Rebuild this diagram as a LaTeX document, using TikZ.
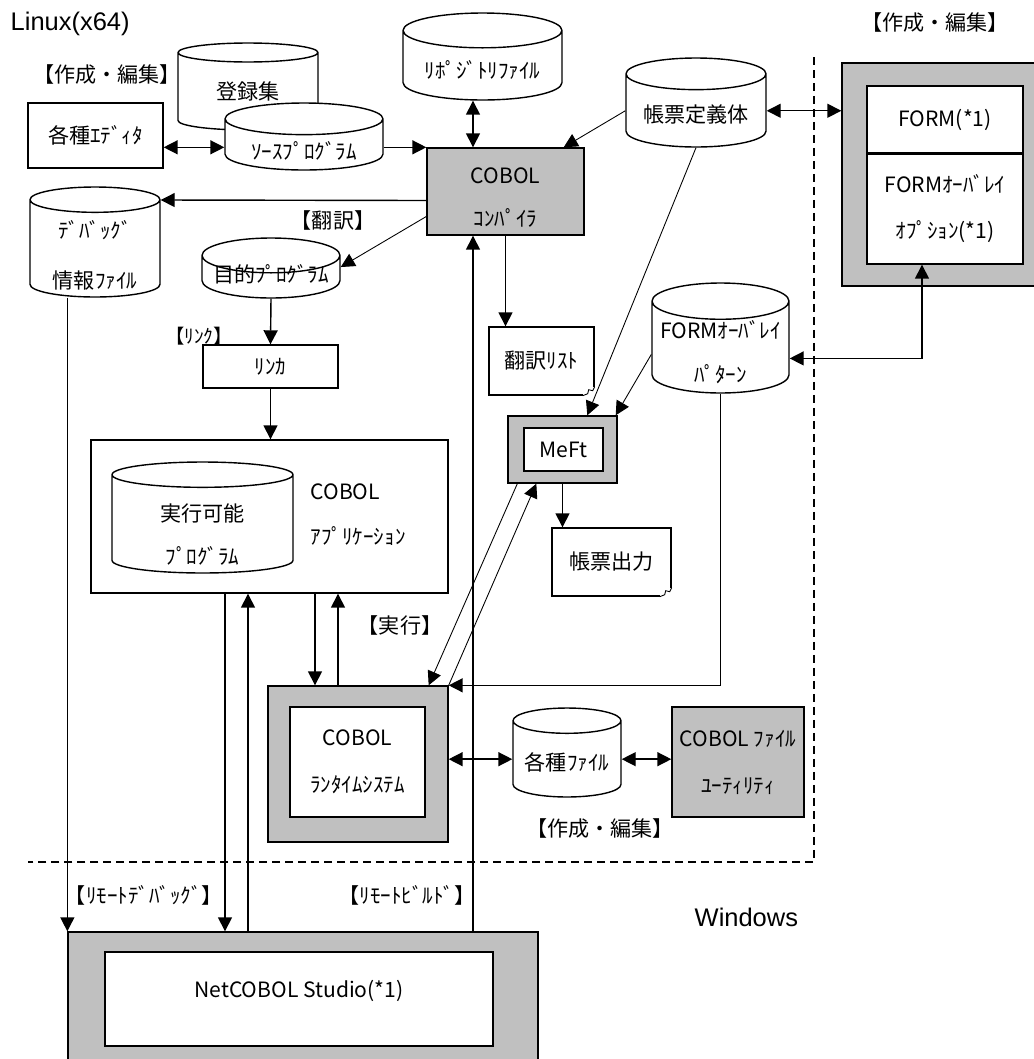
\documentclass[tikz,border=0pt]{standalone}
\usepackage{fontspec}
\setmainfont{Noto Sans CJK JP}
\newfontfamily\osfont{Liberation Sans}
\usetikzlibrary{positioning,calc,shapes.geometric,arrows.meta}
\definecolor{shade}{RGB}{192,192,192}
\tikzset{
  box/.style={draw, fill=white, rectangle, inner sep=0pt, align=center},
  graybox/.style={box, fill=shade},
  dbcyl/.style={draw, fill=white, cylinder, shape border rotate=90, aspect=0.3, inner sep=0pt, align=center, anchor=shape center},
  tag/.style={inner sep=0pt},
  thin link/.style={line width=0.5pt},
  border/.style={line width=0.7pt, dash pattern=on 0.16cm off 0.1cm},
  osname/.style={tag, anchor=west, font=\osfont\fontsize{14.5}{16}\selectfont}
}
\newcommand{\sink}[2]{\raisebox{-#1}[0pt][0pt]{#2}}
\newcommand{\padtop}[1]{\rule{0pt}{#1}}
\newcommand{\padbot}[1]{\rule[-#1]{0pt}{#1}}
\newcommand{\curl}[1]{%
  \fill[white] ($(#1.south east)+(-12,1)$) rectangle ($(#1.south east)+(1,-9)$);
  \draw[thin link] ($(#1.south east)+(-12,0)$) -- ($(#1.south east)+(-7,-2)$) -- ($(#1.south east)+(-6,-6)$) -- ($(#1.south east)+(-2,-5)$) -- ($(#1.south east)+(0,-9)$);
}

\begin{document}
\begin{tikzpicture}[x=0.02cm, y=-0.02cm, line width=0.8pt, >={Triangle[length=2.8mm,width=2.8mm]}, font=\fontsize{12}{14}\selectfont]
      \useasboundingbox (0,0) rectangle (1034,1059);
      \clip (0,0) rectangle (1034,1059);

      \node[osname] (linux) at (10,24) {Linux(x64)};
      \node[osname] (win) at (694,917) {Windows};
      \node[tag] (edit1) at (107,74) {【作成・編集】};
      \node[tag] (edit2) at (935,22) {【作成・編集】};
      \node[tag] (edit3) at (600,828) {【作成・編集】};
      \node[tag] (trans) at (333,220) {【翻訳】};
      \node[tag, font=\fontsize{11}{12}\selectfont] (link) at (199,336) {【ﾘﾝｸ】};
      \node[tag] (run) at (400,625) {【実行】};
      \node[tag] (rdbg) at (144,895) {【ﾘﾓｰﾄﾃﾞﾊﾞｯｸﾞ】};
      \node[tag] (rbld) at (407,895) {【ﾘﾓｰﾄﾋﾞﾙﾄﾞ】};

      \node[box, minimum width=2.7cm, minimum height=1.3cm] (editor) at (95.5,135.5) {各種ｴﾃﾞｨﾀ};
      \node[dbcyl, minimum width=2.8cm, minimum height=1.74cm] (reg) at (248,86.5) {登録集};
      \node[dbcyl, minimum width=3.16cm, minimum height=1.34cm] (src) at (304,136.5) {\sink{8.5pt}{ｿｰｽﾌﾟﾛｸﾞﾗﾑ}};
      \node[dbcyl, minimum width=3.18cm, minimum height=1.74cm] (repo) at (482.5,56.5) {\sink{7.3pt}{ﾘﾎﾟｼﾞﾄﾘﾌｧｲﾙ}};
      \node[graybox, minimum width=3.14cm, minimum height=1.74cm] (cmp) at (505.5,191.5) {\padtop{16pt}COBOL\\[0.37cm]ｺﾝﾊﾟｲﾗ};
      \node[dbcyl, minimum width=2.8cm, minimum height=1.78cm] (fdef) at (696,102.5) {\sink{6.8pt}{帳票定義体}};

      \node[graybox, minimum width=3.96cm, minimum height=4.46cm] (form) at (941,174.5) {};
      \node[box, minimum width=3.12cm, minimum height=1.34cm] (formA) at (945,119.5) {FORM(*1)};
      \node[box, minimum width=3.12cm, minimum height=2.22cm] (formB) at (945,208.5) {FORMｵｰﾊﾞﾚｲ\\[0.43cm]ｵﾌﾟｼｮﾝ(*1)};
      \draw[line width=1.6pt] (formA.south west) -- (formA.south east);

      \node[dbcyl, minimum width=2.6cm, minimum height=2.2cm] (dbg) at (95,242) {\sink{8.5pt}{ﾃﾞﾊﾞｯｸﾞ}\\[0.51cm]\sink{8.5pt}{情報ﾌｧｲﾙ}};
      \node[dbcyl, minimum width=2.76cm, minimum height=1.2cm] (obj) at (271,268) {\sink{3pt}{目的ﾌﾟﾛｸﾞﾗﾑ}};
      \node[box, minimum width=2.7cm, minimum height=0.86cm] (lnk) at (270.5,366.5) {ﾘﾝｶ};
      \node[box, minimum width=2.1cm, minimum height=1.36cm] (lst) at (541.5,361) {翻訳ﾘｽﾄ};
      \curl{lst}
      \node[dbcyl, minimum width=2.74cm, minimum height=2.2cm] (ovl) at (720.5,338) {\sink{7.3pt}{FORMｵｰﾊﾞﾚｲ}\\[0.39cm]\sink{7.3pt}{ﾊﾟﾀｰﾝ}};

      \node[graybox, minimum width=2.18cm, minimum height=1.34cm] (mft) at (562.5,449.5) {};
      \node[box, minimum width=1.58cm, minimum height=0.86cm] (mfti) at (563.5,449.5) {MeFt};

      \node[box, minimum width=7.14cm, minimum height=3.06cm] (app) at (269.5,516.5) {};
      \node[dbcyl, minimum width=3.62cm, minimum height=2.22cm] (exe) at (202.5,517.5) {\sink{10.7pt}{実行可能}\\[0.36cm]\sink{10.7pt}{ﾌﾟﾛｸﾞﾗﾑ}};
      \node[tag, anchor=west, align=left] (appname) at (310,514.5) {COBOL\\[0.41cm]ｱﾌﾟﾘｹｰｼｮﾝ};

      \node[box, minimum width=2.38cm, minimum height=1.36cm] (out) at (611.5,562) {帳票出力};
      \curl{out}

      \node[graybox, minimum width=3.6cm, minimum height=3.12cm] (rts) at (358,764) {};
      \node[box, minimum width=2.7cm, minimum height=2.2cm] (rtsi) at (357.5,762) {COBOL\\[0.45cm]ﾗﾝﾀｲﾑｼｽﾃﾑ};
      \node[dbcyl, minimum width=2.16cm, minimum height=1.78cm] (files) at (567,752.5) {\sink{6.3pt}{各種ﾌｧｲﾙ}};
      \node[graybox, minimum width=2.64cm, minimum height=2.2cm] (util) at (738,762) {COBOL ﾌｧｲﾙ\\[0.45cm]ﾕｰﾃｨﾘﾃｨ};

      \node[graybox, minimum width=9.4cm, minimum height=2.76cm] (ide) at (303,1001) {};
      \node[box, minimum width=7.76cm, minimum height=1.88cm] (idei) at (299,999) {NetCOBOL Studio(*1)\padbot{12pt}};

      \draw[border] (814,57) -- (814,862) -- (28,862);

      \draw[<->] (editor.east |- cmp.north) -- (src.west |- cmp.north);
      \draw[->] (src.east |- cmp.north) -- (cmp.north west);
      \draw[<->] (repo.south -| 473,0) -- (cmp.north -| 473,0);
      \draw[->, thin link] (fdef.west) -- ($(cmp.north east)+(-21,0)$);
      \draw[<->] (fdef.east) -- (form.west |- fdef.east);
      \draw[->] ($(cmp.west)+(0,9)$) -- (dbg.east |- 0,200);
      \draw[->, thin link] ($(cmp.west)+(0,25)$) -- ($(obj.east)+(0,-10)$);
      \draw[->] (cmp.south) -- (cmp.south |- lst.north);
      \draw[->] (obj.south) -- (lnk.north);
      \draw[->] (lnk.south) -- (lnk.south |- app.north);

      \draw[->, thin link] (fdef.south) -- ($(mft.north west)+(80,0)$);
      \draw[->, thin link] ($(ovl.west)+(0,7)$) -- ($(mft.north east)+(-2,0)$);
      \draw[<->] ($(ovl.east)+(0,11)$) -| ($(formB.south)+(-23,0)$);
      \draw[->] (ovl.south) |- (rts.north east);
      \draw[->] (mft.south) -- (mft.south |- out.north);
      \draw[->, thin link] ($(mft.south west)+(10,0)$) -- ($(rts.north east)+(-20,0)$);
      \draw[->, thin link] (rts.north east) -- ($(mft.south west)+(29,0)$);

      \draw[->] (app.south -| 315,0) -- (rts.north -| 315,0);
      \draw[->] (rts.north -| 338,0) -- (app.south -| 338,0);
      \draw[<->] (rts.east |- files.west) -- (files.west);
      \draw[<->] (files.east) -- (util.west |- files.east);

      \draw[->] (dbg.south -| ide.north west) -- (ide.north west);
      \draw[->] (app.south -| 225,0) -- (ide.north -| 225,0);
      \draw[->] (ide.north -| 248,0) -- (app.south -| 248,0);
      \draw[->] (ide.north -| 473,0) -- (cmp.south -| 473,0);

    \end{tikzpicture}
\end{document}
